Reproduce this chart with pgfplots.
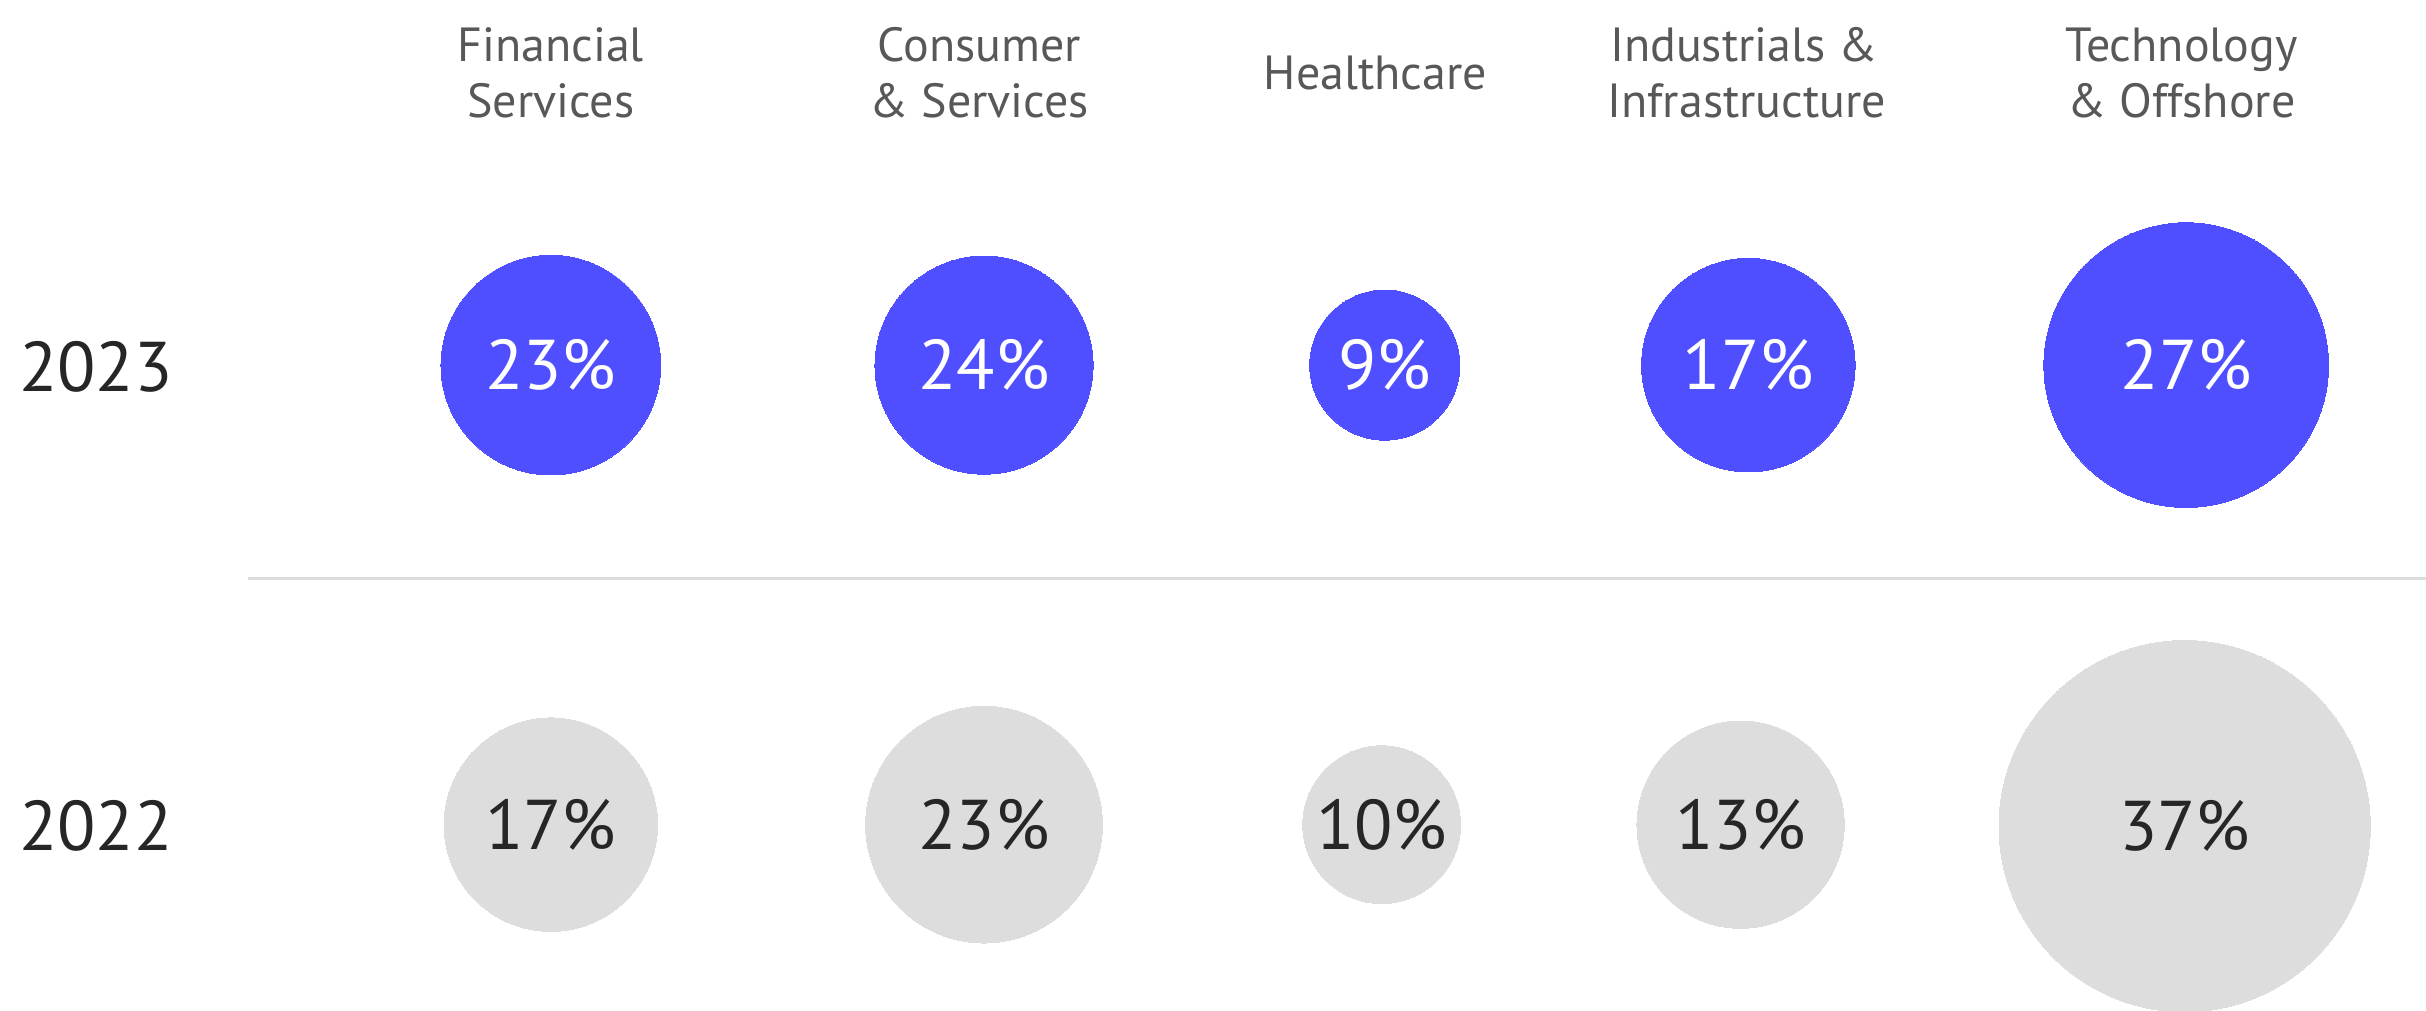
\documentclass[border=0pt]{standalone}
\usepackage{pgfplots}
\pgfplotsset{compat=1.18}
\usepackage{fontspec}
\setmainfont{PT Sans}
\definecolor{cblue}{HTML}{4F4FFF}
\definecolor{cgray}{HTML}{DDDDDD}
\definecolor{hdr}{HTML}{585858}
\definecolor{dark}{HTML}{262626}

\newcommand{\hfont}{\fontsize{31}{31}\selectfont}
\newcommand{\pfont}{\fontsize{45.5}{45.5}\selectfont}

% \bubble{x}{y (downwards)}{radius}{share}{fill colour}{text colour}
\newcommand{\bubble}[6]{%
  \addplot[only marks, mark=*, color=#5, line width=0pt, mark size=#3,
    point meta=explicit symbolic,
    nodes near coords,
    nodes near coords style={anchor=center, text=#6, font=\pfont},
  ] coordinates {(#1,#2) [#4\%]};%
}

\begin{document}
\begin{tikzpicture}
\useasboundingbox (0,0) rectangle (1568pt,653pt);
\begin{axis}[
  at={(0,0)}, anchor=south west,
  width=1568pt, height=653pt, scale only axis,
  xmin=0, xmax=1568, ymin=0, ymax=653, y dir=reverse,
  hide axis, clip=true,
]
\addplot[cgray, line width=2.2pt, forget plot] coordinates {(160,374) (1568,374)};

% 2023
\bubble{356}{236}{71}{23}{cblue}{white}
\bubble{636}{236}{70.5}{24}{cblue}{white}
\bubble{895}{236}{48.5}{9}{cblue}{white}
\bubble{1130}{236}{69}{17}{cblue}{white}
\bubble{1413}{236}{92}{27}{cblue}{white}
% 2022
\bubble{356}{533}{69}{17}{cgray}{dark}
\bubble{636}{533}{76.5}{23}{cgray}{dark}
\bubble{893}{533}{51}{10}{cgray}{dark}
\bubble{1125}{533}{67}{13}{cgray}{dark}
\bubble{1412}{534}{120}{37}{cgray}{dark}

% column headers
\begin{scope}[every node/.style={anchor=base, text=hdr, font=\hfont, inner sep=0pt}]
\node at (axis cs:356,40) {Financial};
\node at (axis cs:356,76) {Services};
\node at (axis cs:633,40) {Consumer};
\node at (axis cs:633,76) {\& Services};
\node at (axis cs:889,58) {Healthcare};
\node at (axis cs:1127,40) {Industrials \&};
\node at (axis cs:1129,76) {Infrastructure};
\node at (axis cs:1410,40) {Technology};
\node at (axis cs:1410,76) {\& Offshore};
\end{scope}
% row labels
\node[anchor=base, text=dark, font=\pfont, inner sep=0pt] at (axis cs:62,253) {2023};
\node[anchor=base, text=dark, font=\pfont, inner sep=0pt] at (axis cs:62,550) {2022};
\end{axis}
\end{tikzpicture}
\end{document}
